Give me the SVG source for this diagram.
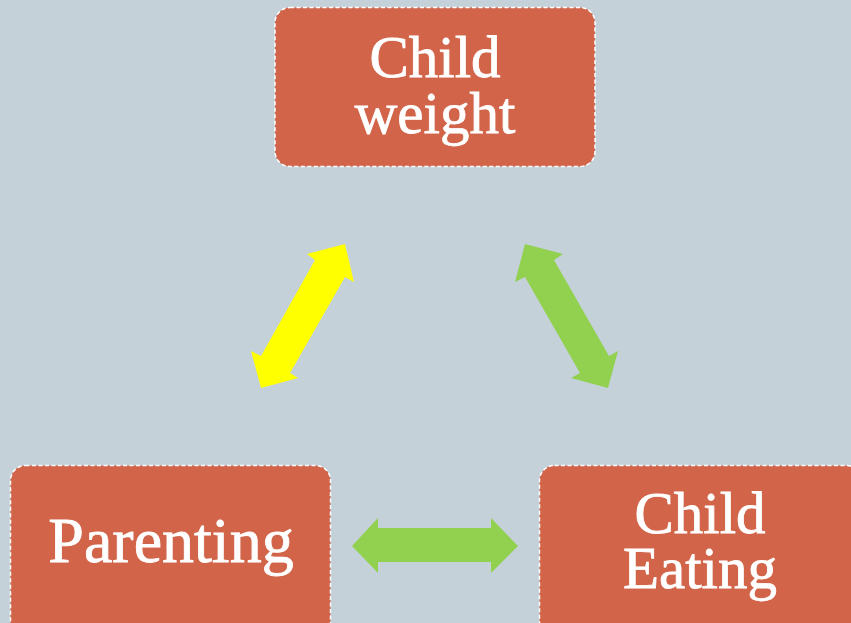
<svg xmlns="http://www.w3.org/2000/svg" width="851" height="623" viewBox="0 0 851 623">
<style>
.box{fill:#D16449;stroke:#FFFFFF;stroke-width:1.5;stroke-dasharray:4 2.5}
.lbl{font-family:"Liberation Serif","Times New Roman",serif;font-size:59px;fill:#FFFFFF;stroke:#FFFFFF;stroke-width:0.8;text-anchor:middle}
.big{font-size:64px}
.yel{fill:#FFFF00}
.grn{fill:#92D050}
</style>
<rect x="0" y="0" width="851" height="623" fill="#C5D1D8"/>
<g id="connectors">
<polygon class="yel" points="345,244 354,282 345,277 290,373 298,378 261,388 251,351 261,356 315,260 307,254"/>
<polygon class="grn" points="525,244 563,254 554,260 609,356 618,351 608,388 571,378 580,373 525,277 515,282"/>
<polygon class="grn" points="352,546 378,518 378,528 491,528 491,518 518,546 491,573 491,562 378,562 378,573"/>
</g>
<g id="node-child-weight">
<rect class="box" x="275" y="7.5" width="320" height="159" rx="15"/>
<text class="lbl" x="435" y="77">Child</text>
<text class="lbl" x="435" y="133">weight</text>
</g>
<g id="node-parenting">
<rect class="box" x="10.5" y="465.5" width="320" height="175" rx="15"/>
<text class="lbl big" x="171" y="562">Parenting</text>
</g>
<g id="node-child-eating">
<rect class="box" x="539.5" y="465.5" width="322" height="175" rx="15"/>
<text class="lbl" x="700" y="533">Child</text>
<text class="lbl" x="700" y="588">Eating</text>
</g>
</svg>
